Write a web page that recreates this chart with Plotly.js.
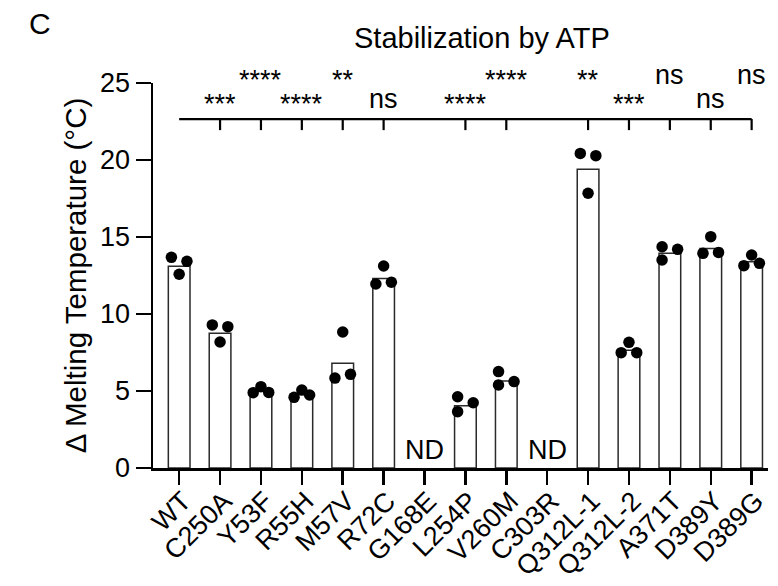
<!DOCTYPE html>
<html>
<head>
<meta charset="utf-8">
<script src="https://cdn.plot.ly/plotly-3.0.1.min.js"></script>
<style>html,body{margin:0;padding:0;background:#fff;}#chart{width:778px;height:586px;}</style>
</head>
<body>
<div id="chart"></div>
<script>
// ---- data ----
const categories = ['WT','C250A','Y53F','R55H','M57V','R72C','G168E','L254P','V260M','C303R','Q312L-1','Q312L-2','A371T','D389Y','D389G'];
const meanDeltaTm = [13.1, 8.75, 5.0, 4.8, 6.8, 12.3, null, 4.05, 5.65, null, 19.4, 7.65, 13.95, 14.25, 13.4];
const replicate1 = [13.68, 9.29, 4.89, 4.59, 5.84, 11.95, null, 4.63, 6.26, null, 20.43, 7.49, 14.37, 13.94, 13.14];
const replicate2 = [12.58, 8.18, 5.28, 5.06, 8.83, 13.12, null, 3.66, 5.39, null, 17.84, 8.16, 13.51, 15.02, 13.83];
const replicate3 = [13.42, 9.18, 4.91, 4.74, 6.08, 12.06, null, 4.24, 5.61, null, 20.28, 7.49, 14.20, 14.00, 13.29];
const significance = ['', '***', '****', '****', '**', 'ns', '', '****', '****', '', '**', '***', 'ns', 'ns', 'ns'];

// ---- layout constants (dot jitter, label rows) ----
const jitter1 = categories.map(() => -0.19);
const jitter2 = [0, 0, 0, 0, 0, 0, 0, -0.19, -0.19, 0, 0, 0, -0.19, 0, 0];
const jitter3 = categories.map(() => 0.19);

const FONT = 'Liberation Sans, Arial, Helvetica, sans-serif';
const Y_MAX = 25;
const idx = categories.map((_, i) => i);

const dotsX = [], dotsY = [];
[[replicate1, jitter1], [replicate2, jitter2], [replicate3, jitter3]].forEach(([vals, jit]) => {
  vals.forEach((v, i) => { if (v !== null) { dotsX.push(i + jit[i]); dotsY.push(v); } });
});

const bars = {
  type: 'bar', x: idx, y: meanDeltaTm, width: 0.53,
  marker: {color: '#ffffff', line: {color: '#2a2a2a', width: 1.5}},
  hoverinfo: 'skip', showlegend: false
};
const dots = {
  type: 'scatter', mode: 'markers', x: dotsX, y: dotsY,
  marker: {color: '#000000', size: 11.5}, cliponaxis: false, showlegend: false
};

// bracket
const bracketY = 22.66, bracketTick = 0.72;
const shapes = [{type: 'line', xref: 'x', yref: 'y', x0: 0, x1: categories.length - 1, y0: bracketY, y1: bracketY, line: {color: '#000', width: 2.2}}];
significance.forEach((s, i) => {
  if (s && i > 0) shapes.push({type: 'line', xref: 'x', yref: 'y', x0: i, x1: i, y0: bracketY, y1: bracketY - bracketTick, line: {color: '#000', width: 2.2}});
});

// significance labels: alternate rows; positioned in paper units (paper 1 = top of y range)
const annotations = [];
significance.forEach((s, i) => {
  if (!s) return;
  const upper = (i % 2 === 0);
  const isNs = s === 'ns';
  let y;
  if (upper) y = isNs ? 25.53 : 25.18; else y = isNs ? 23.97 : 23.65;
  annotations.push({xref: 'x', yref: 'paper', x: i, y: y / Y_MAX, text: s, showarrow: false, xanchor: 'center', yanchor: 'middle', font: {family: FONT, size: 27, color: '#000'}});
});
meanDeltaTm.forEach((v, i) => {
  if (v === null) annotations.push({xref: 'x', yref: 'paper', x: i, y: 1.15 / Y_MAX, text: 'ND', showarrow: false, xanchor: 'center', yanchor: 'middle', font: {family: FONT, size: 27, color: '#000'}});
});
annotations.push({xref: 'paper', yref: 'paper', x: 0.535, y: 1.117, text: 'Stabilization by ATP', showarrow: false, xanchor: 'center', yanchor: 'middle', font: {family: FONT, size: 29, color: '#000'}});
annotations.push({xref: 'paper', yref: 'paper', x: -0.184, y: 1.155, text: 'C', showarrow: false, xanchor: 'center', yanchor: 'middle', font: {family: FONT, size: 30, color: '#000'}});

const layout = {
  width: 778, height: 586,
  margin: {l: 153, r: 10, t: 83, b: 118, pad: 0},
  paper_bgcolor: '#fff', plot_bgcolor: '#fff',
  font: {family: FONT, color: '#000'},
  showlegend: false,
  xaxis: {
    type: 'linear', range: [-0.64, 14.4], tickmode: 'array', tickvals: idx, ticktext: categories,
    tickangle: -45, ticks: 'outside', ticklen: 14, tickwidth: 2.5, tickcolor: '#000',
    ticklabelstandoff: -10, ticklabelshift: 4,
    showline: true, linewidth: 2.5, linecolor: '#000', showgrid: false, zeroline: false,
    tickfont: {family: FONT, size: 27, color: '#000'}, automargin: false, fixedrange: true
  },
  yaxis: {
    range: [0, Y_MAX], tickmode: 'array', tickvals: [0, 5, 10, 15, 20, 25],
    ticks: 'outside', ticklen: 15, tickwidth: 2.5, tickcolor: '#000',
    showline: true, linewidth: 2.5, linecolor: '#000', showgrid: false, zeroline: false,
    tickfont: {family: FONT, size: 27, color: '#000'}, automargin: false,
    title: {text: 'Δ Melting Temperature (°C)', font: {family: FONT, size: 29.5, color: '#000'}, standoff: 5}
  },
  shapes: shapes,
  annotations: annotations
};

Plotly.newPlot('chart', [bars, dots], layout, {displayModeBar: false, staticPlot: true});
</script>
</body>
</html>
